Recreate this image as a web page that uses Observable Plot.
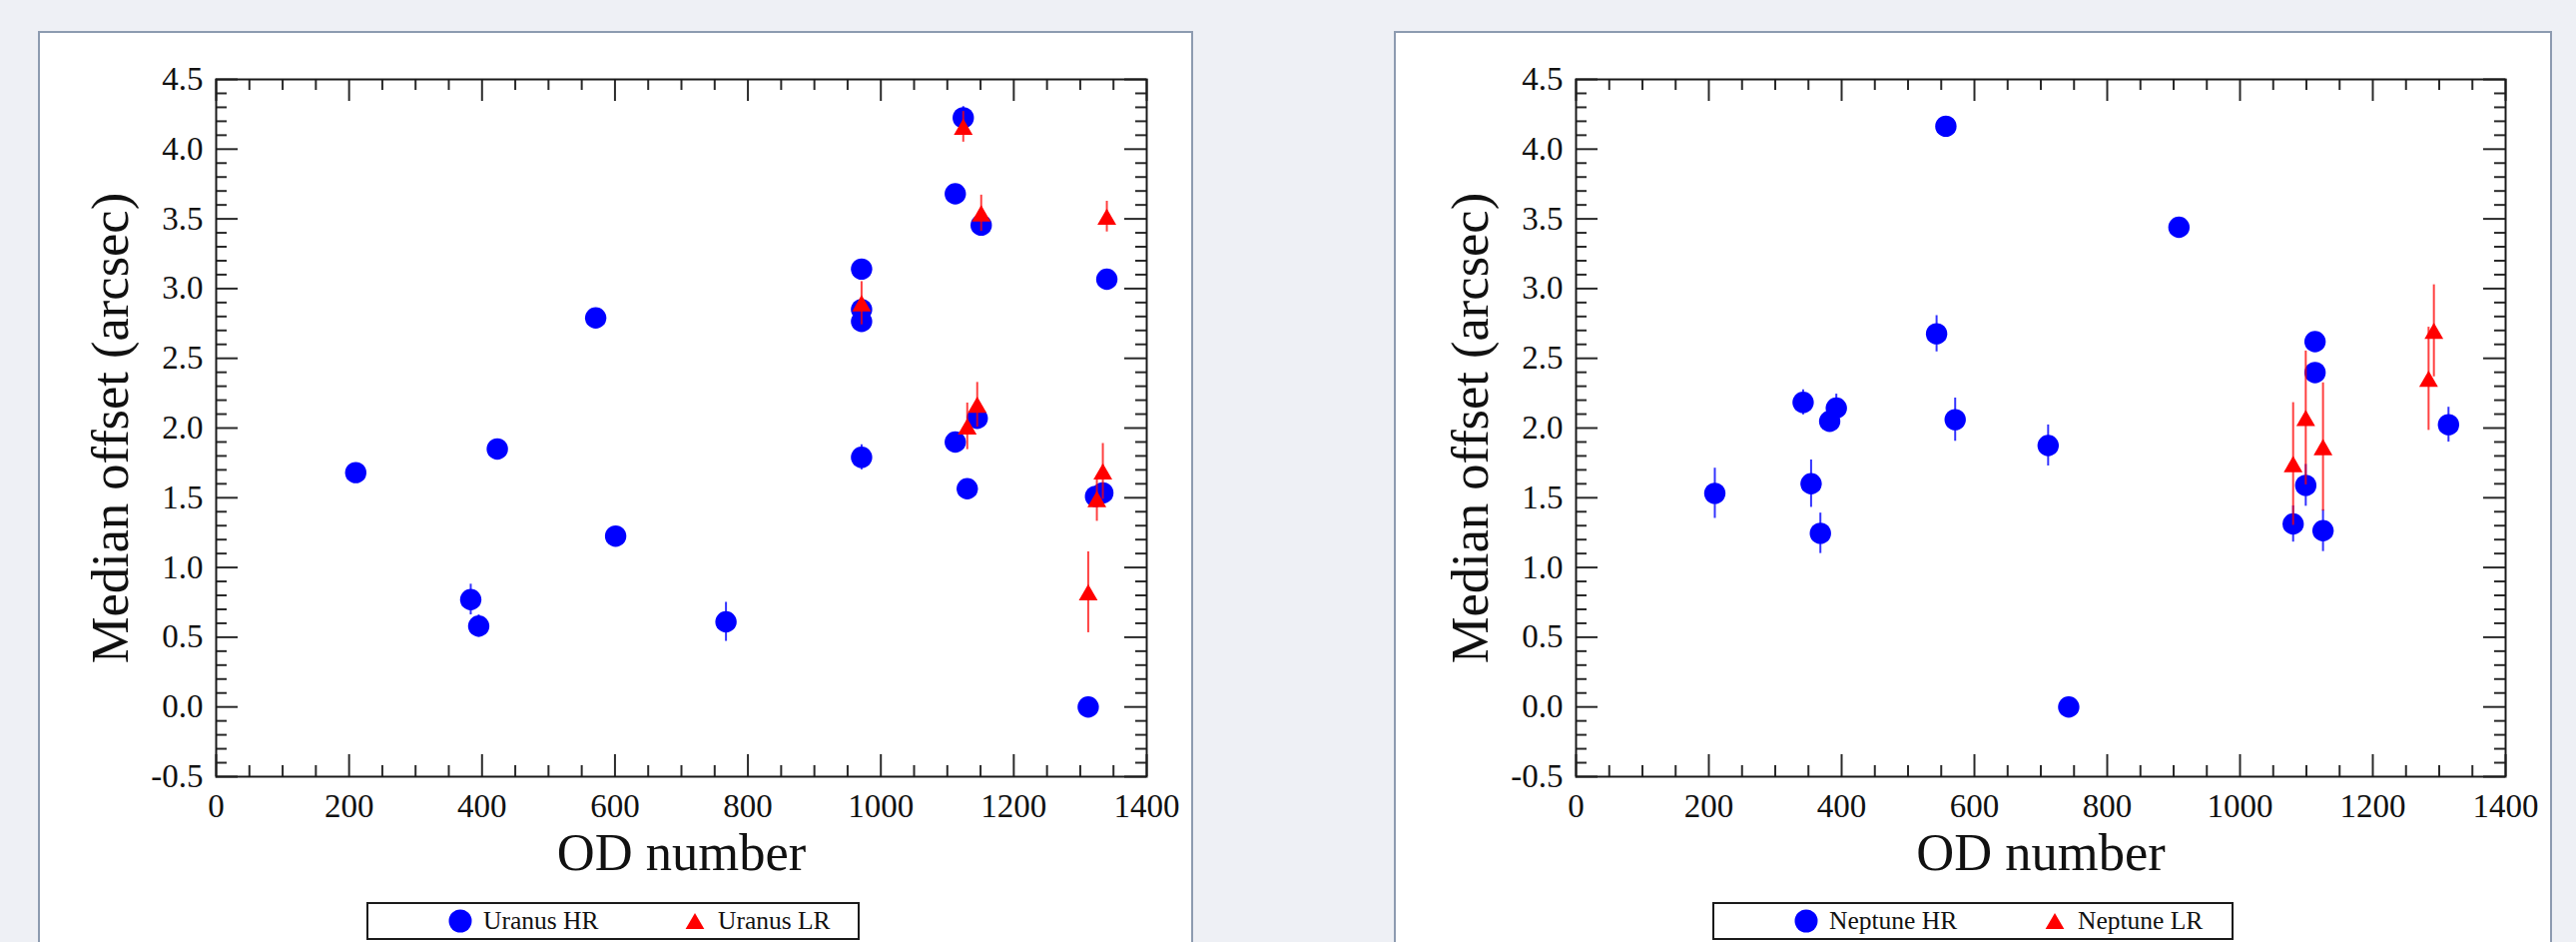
<!DOCTYPE html>
<html>
<head>
<meta charset="utf-8">
<script src="https://cdn.jsdelivr.net/npm/d3@7"></script>
<script src="https://cdn.jsdelivr.net/npm/@observablehq/plot@0.6"></script>
<style>
html, body { margin: 0; padding: 0; }
body { width: 2580px; height: 943px; background: #eef0f5; position: relative; overflow: hidden; font-family: "Liberation Serif", serif; }
.panel { position: absolute; top: 31px; height: 930px; background: #fff; border: 2px solid #8d9bb0; box-sizing: border-box; }
.chart { position: absolute; top: 0; }
.legend { position: absolute; top: 903px; height: 38px; border: 2px solid #1a1a1a; box-sizing: border-box; background: #fff; font-size: 25.5px; color: #111; }
.legend .item { position: absolute; top: 0; height: 34px; display: flex; align-items: center; white-space: nowrap; }
.legend .item svg { margin-right: 11px; display: block; }
</style>
</head>
<body>
<script>
// ---------- data ----------
const uranusHR_od  = [210, 383, 395, 423, 571, 601, 767, 971, 971, 971, 971, 1112, 1124, 1151, 1145, 1112, 1130, 1312, 1323, 1334, 1340];
const uranusHR_off = [1.68, 0.77, 0.58, 1.85, 2.79, 1.225, 0.61, 3.14, 2.85, 2.765, 1.79, 3.68, 4.225, 3.455, 2.07, 1.90, 1.565, 0.0, 1.51, 1.535, 3.067];
const uranusHR_err = [0.05, 0.11, 0.08, 0.05, 0.04, 0.05, 0.14, 0.05, 0.05, 0.05, 0.09, 0.05, 0.08, 0.07, 0.06, 0.05, 0.05, 0.03, 0.05, 0.05, 0.05];

const uranusLR_od  = [971, 1124, 1151, 1145, 1130, 1312, 1325, 1334, 1340];
const uranusLR_off = [2.895, 4.16, 3.54, 2.167, 2.012, 0.822, 1.491, 1.689, 3.516];
const uranusLR_err = [0.155, 0.11, 0.13, 0.16, 0.167, 0.29, 0.16, 0.2, 0.11];

const neptuneHR_od  = [209, 342, 354, 368, 382, 392, 543, 557, 571, 711, 742, 908, 1080, 1099, 1113, 1113, 1125, 1314];
const neptuneHR_off = [1.532, 2.184, 1.601, 1.245, 2.048, 2.143, 2.676, 4.164, 2.06, 1.875, 0.0, 3.44, 1.312, 1.589, 2.62, 2.398, 1.264, 2.024];
const neptuneHR_err = [0.18, 0.09, 0.17, 0.145, 0.06, 0.1, 0.13, 0.06, 0.155, 0.147, 0.03, 0.07, 0.13, 0.15, 0.05, 0.05, 0.15, 0.125];

const neptuneLR_od  = [1080, 1099, 1125, 1284, 1292];
const neptuneLR_off = [1.742, 2.072, 1.864, 2.353, 2.697];
const neptuneLR_err = [0.44, 0.48, 0.46, 0.37, 0.33];

// ticks and labels
const xTicks = [0, 200, 400, 600, 800, 1000, 1200, 1400];
const xMinorTicks = [50, 100, 150, 250, 300, 350, 450, 500, 550, 650, 700, 750, 850, 900, 950, 1050, 1100, 1150, 1250, 1300, 1350];
const yTicks = [-0.5, 0, 0.5, 1, 1.5, 2, 2.5, 3, 3.5, 4, 4.5];
const yMinorTicks = [-0.4, -0.3, -0.2, -0.1, 0.1, 0.2, 0.3, 0.4, 0.6, 0.7, 0.8, 0.9, 1.1, 1.2, 1.3, 1.4, 1.6, 1.7, 1.8, 1.9,
  2.1, 2.2, 2.3, 2.4, 2.6, 2.7, 2.8, 2.9, 3.1, 3.2, 3.3, 3.4, 3.6, 3.7, 3.8, 3.9, 4.1, 4.2, 4.3, 4.4];
const xLabel = "OD number";
const yLabel = "Median offset (arcsec)";
const seriesNames = {uranus: ["Uranus HR", "Uranus LR"], neptune: ["Neptune HR", "Neptune LR"]};
const hrColor = "#0000ff";
const lrColor = "#ff0000";

// ---------- drawing ----------
function rows(od, off, err) { return od.map((v, i) => ({od: v, off: off[i], err: err[i]})); }

function chart(hr, lr, {width, marginLeft, marginRight}) {
  const height = 900, marginTop = 79, marginBottom = 123;
  const fh = height - marginTop - marginBottom;
  const fw = width - marginLeft - marginRight;
  const tk = {stroke: "#2a2a2a", strokeWidth: 2};
  return Plot.plot({
    width, height, marginLeft, marginRight, marginTop, marginBottom,
    style: {background: "transparent", overflow: "visible", fontFamily: "Liberation Serif, serif", fontSize: "33px", color: "#111"},
    x: {domain: [0, 1400]},
    y: {domain: [-0.5, 4.5]},
    marks: [
      Plot.axisX({ticks: xTicks, tickSize: 0, tickPadding: 17, tickFormat: d => String(d), label: null}),
      Plot.axisY({ticks: yTicks, tickSize: 0, tickPadding: 13, tickFormat: d => d.toFixed(1), label: null}),
      Plot.tickX(xTicks, {x: d => d, insetBottom: fh - 22, ...tk}),
      Plot.tickX(xMinorTicks, {x: d => d, insetBottom: fh - 11, ...tk}),
      Plot.tickX(xTicks, {x: d => d, insetTop: fh - 22, ...tk}),
      Plot.tickX(xMinorTicks, {x: d => d, insetTop: fh - 11, ...tk}),
      Plot.tickY(yTicks, {y: d => d, insetRight: fw - 22, ...tk}),
      Plot.tickY(yMinorTicks, {y: d => d, insetRight: fw - 11, ...tk}),
      Plot.tickY(yTicks, {y: d => d, insetLeft: fw - 22, ...tk}),
      Plot.tickY(yMinorTicks, {y: d => d, insetLeft: fw - 11, ...tk}),
      Plot.frame({stroke: "#1a1a1a", strokeWidth: 2}),
      Plot.ruleX(hr, {x: "od", y1: d => d.off - d.err, y2: d => d.off + d.err, stroke: hrColor, strokeWidth: 2, strokeOpacity: 0.8}),
      Plot.dot(hr, {x: "od", y: "off", r: 10.7, fill: hrColor, symbol: "circle"}),
      Plot.ruleX(lr, {x: "od", y1: d => d.off - d.err, y2: d => d.off + d.err, stroke: lrColor, strokeWidth: 2, strokeOpacity: 0.75}),
      Plot.dot(lr, {x: "od", y: "off", r: 7, fill: lrColor, symbol: "triangle", dy: 2.7}),
      Plot.text([xLabel], {text: d => d, frameAnchor: "bottom", textAnchor: "middle", lineAnchor: "top", dy: 56, fontSize: 52.5, fill: "#111"}),
      Plot.text([yLabel], {text: d => d, frameAnchor: "left", textAnchor: "middle", rotate: -90, dx: -105, dy: 0, fontSize: 52.5, fill: "#111"})
    ]
  });
}

function swatch(kind, color) {
  const s = d3.create("svg").attr("width", 24).attr("height", 24);
  if (kind === "circle") s.append("circle").attr("cx", 12).attr("cy", 12).attr("r", 11.5).attr("fill", color);
  else s.append("path").attr("transform", "translate(12,14.7)").attr("d", d3.symbol(d3.symbolTriangle, 152)()).attr("fill", color);
  return s.node();
}

function legend(names, {left, width, item2}) {
  const box = document.createElement("div");
  box.className = "legend";
  box.style.left = left + "px";
  box.style.width = width + "px";
  [[names[0], "circle", hrColor, 80], [names[1], "triangle", lrColor, item2]].forEach(([name, kind, color, x]) => {
    const it = document.createElement("div");
    it.className = "item";
    it.style.left = x + "px";
    it.appendChild(swatch(kind, color));
    const t = document.createElement("span");
    t.textContent = name;
    it.appendChild(t);
    box.appendChild(it);
  });
  return box;
}

function panel(left, width) {
  const p = document.createElement("div");
  p.className = "panel";
  p.style.left = left + "px";
  p.style.width = width + "px";
  return p;
}

document.body.appendChild(panel(38, 1157));
document.body.appendChild(panel(1396, 1160));

const c1 = chart(rows(uranusHR_od, uranusHR_off, uranusHR_err), rows(uranusLR_od, uranusLR_off, uranusLR_err),
  {width: 1156, marginLeft: 178, marginRight: 46});
c1.classList.add("chart"); c1.style.left = "38px"; c1.style.position = "absolute";
document.body.appendChild(c1);

const c2 = chart(rows(neptuneHR_od, neptuneHR_off, neptuneHR_err), rows(neptuneLR_od, neptuneLR_off, neptuneLR_err),
  {width: 1159, marginLeft: 182, marginRight: 46});
c2.classList.add("chart"); c2.style.left = "1396px"; c2.style.position = "absolute";
document.body.appendChild(c2);

document.body.appendChild(legend(seriesNames.uranus, {left: 367, width: 494, item2: 315}));
document.body.appendChild(legend(seriesNames.neptune, {left: 1715, width: 522, item2: 329}));
</script>
</body>
</html>
